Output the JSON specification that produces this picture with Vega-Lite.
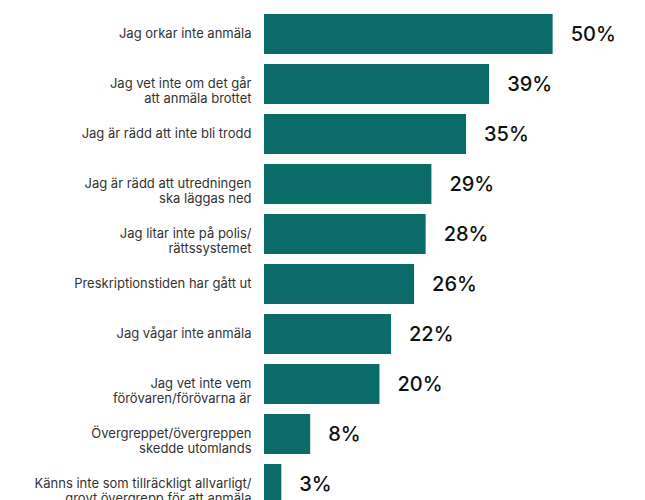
{
  "$schema": "https://vega.github.io/schema/vega-lite/v6.json",
  "autosize": {"type": "none"},
  "padding": {"left": 264, "top": 9, "right": 0, "bottom": 0},
  "width": 381,
  "height": 500,
  "background": "white",
  "config": {"view": {"stroke": null}},
  "data": {
    "values": [
      {"reason": "Jag orkar inte anmäla", "pct": 50},
      {"reason": "Jag vet inte om det går|att anmäla brottet", "pct": 39},
      {"reason": "Jag är rädd att inte bli trodd", "pct": 35},
      {"reason": "Jag är rädd att utredningen|ska läggas ned", "pct": 29},
      {"reason": "Jag litar inte på polis/|rättssystemet", "pct": 28},
      {"reason": "Preskriptionstiden har gått ut", "pct": 26},
      {"reason": "Jag vågar inte anmäla", "pct": 22},
      {"reason": "Jag vet inte vem|förövaren/förövarna är", "pct": 20},
      {"reason": "Övergreppet/övergreppen|skedde utomlands", "pct": 8},
      {"reason": "Känns inte som tillräckligt allvarligt/|grovt övergrepp för att anmäla", "pct": 3}
    ]
  },
  "encoding": {
    "y": {
      "field": "reason",
      "type": "nominal",
      "sort": null,
      "scale": {"paddingInner": 0.2, "paddingOuter": 0.1},
      "axis": {
        "title": null,
        "domain": false,
        "ticks": false,
        "labelPadding": 13,
        "labelFont": "Inter",
        "labelFontSize": 13,
        "labelColor": "#333333",
        "labelLineHeight": 15,
        "labelLimit": 300,
        "labelExpr": "split(datum.label, '|')"
      }
    },
    "x": {
      "field": "pct",
      "type": "quantitative",
      "scale": {"domain": [0, 66], "nice": false},
      "axis": null
    }
  },
  "layer": [
    {"mark": {"type": "bar", "color": "#0B6B68"}},
    {
      "mark": {"type": "text", "align": "left", "baseline": "middle", "dx": 18, "dy": 1, "font": "Inter", "fontSize": 20, "fontWeight": 500, "color": "#111111", "text": {"expr": "datum.pct + '%'"}}
    }
  ]
}
